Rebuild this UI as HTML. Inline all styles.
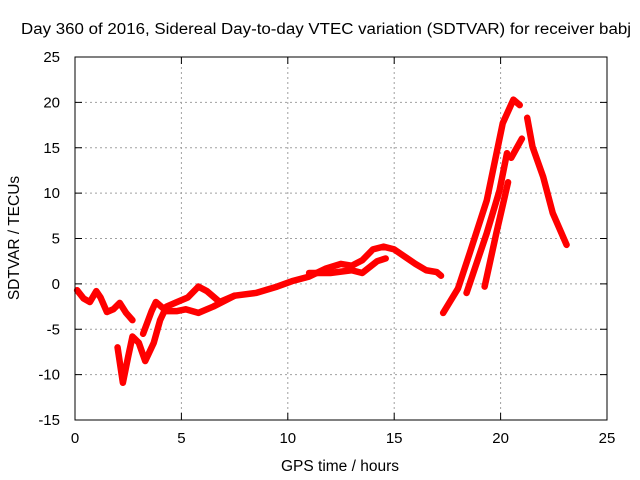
<!DOCTYPE html>
<html><head><meta charset="utf-8"><style>
body{margin:0;background:#fff}
svg{display:block;font-family:"Liberation Sans",sans-serif}
</style></head><body>
<svg id="c" width="640" height="480" xmlns="http://www.w3.org/2000/svg">
<text x="326" y="34" font-size="15.5" text-anchor="middle" textLength="610" lengthAdjust="spacingAndGlyphs">Day 360 of 2016, Sidereal Day-to-day VTEC variation (SDTVAR) for receiver babj</text>
<text x="340" y="471" font-size="15.5" text-anchor="middle">GPS time / hours</text>
<text x="0" y="0" font-size="15.5" text-anchor="middle" transform="translate(19,238) rotate(-90)">SDTVAR / TECUs</text>
<g id="grid"></g><g id="series"></g>
<rect x="75" y="57" width="532" height="363" fill="none" stroke="#000" stroke-width="1"/>
</svg>
<script>
const xTicks=[0,5,10,15,20,25];
const yTicks=[-15,-10,-5,0,5,10,15,20,25];
const trackLeft=[[0.1,-0.7],[0.4,-1.6],[0.7,-2],[1.0,-0.8],[1.2,-1.5],[1.5,-3.1],[1.8,-2.8],[2.1,-2.1],[2.4,-3.2],[2.7,-4]];
const trackMain=[[2.0,-7],[2.25,-10.9],[2.5,-8],[2.7,-5.8],[3.0,-6.5],[3.3,-8.5],[3.7,-6.5],[4.0,-4],[4.3,-2.5],[4.8,-2],[5.3,-1.5],[5.8,-0.3],[6.2,-0.8],[6.8,-2],[7.5,-1.3],[8.5,-1],[9.5,-0.3],[10.2,0.3],[11,0.8],[11.8,1.7],[12.5,2.2],[13,2],[13.5,2.6],[14,3.8],[14.5,4.1],[15,3.8],[15.5,3],[16,2.2],[16.5,1.5],[17,1.3],[17.2,0.9]];
const trackSecond=[[3.2,-5.5],[3.6,-3],[3.8,-2],[4.3,-3],[4.8,-3],[5.2,-2.8],[5.8,-3.2],[6.5,-2.5],[7.5,-1.3]];
const trackLate=[[11,1.2],[12,1.2],[13,1.5],[13.5,1.2],[14.2,2.5],[14.6,2.8]];
const trackA=[[17.3,-3.2],[18.0,-0.5],[18.55,3.4],[19.35,9.2],[20.1,17.7],[20.6,20.3],[20.9,19.7]];
const trackB=[[18.4,-1],[19.35,5.6],[19.95,10.3],[20.3,14.4]];
const trackB2=[[20.5,13.9],[21.0,16]];
const trackC=[[19.25,-0.3],[19.8,5.6],[20.35,11.2]];
const trackDown=[[21.25,18.3],[21.5,15.1],[22.0,11.8],[22.45,7.8],[23.1,4.3]];
const NS="http://www.w3.org/2000/svg";
const X=v=>75+v*21.28, Y=v=>57+(25-v)*9.075;
const g=document.getElementById('grid'), s=document.getElementById('series');
function mk(t,a,p){const e=document.createElementNS(NS,t);for(const k in a)e.setAttribute(k,a[k]);p.appendChild(e);return e;}
xTicks.forEach(t=>{
 if(t>0&&t<25){const l=mk('line',{x1:X(t),x2:X(t),y1:57,y2:420,stroke:'#a0a0a0','stroke-dasharray':'2,3'},g);
 
 }
 mk('line',{x1:X(t),x2:X(t),y1:420,y2:413,stroke:'#000'},g);
 mk('line',{x1:X(t),x2:X(t),y1:57,y2:64,stroke:'#000'},g);
 const tx=mk('text',{x:X(t),y:443,'font-size':15,'text-anchor':'middle'},g);tx.textContent=t;
 
 
});
yTicks.forEach(t=>{
 if(t>-15&&t<25){const l=mk('line',{x1:75,x2:607,y1:Y(t),y2:Y(t),stroke:'#a0a0a0','stroke-dasharray':'2,3'},g);
 
 }
 mk('line',{x1:75,x2:82,y1:Y(t),y2:Y(t),stroke:'#000'},g);
 mk('line',{x1:607,x2:600,y1:Y(t),y2:Y(t),stroke:'#000'},g);
 const tx=mk('text',{x:60,y:Y(t)+5,'font-size':15,'text-anchor':'end'},g);tx.textContent=t;
 
 
});
[trackLeft,trackMain,trackSecond,trackLate,trackA,trackB,trackB2,trackC,trackDown].forEach(tr=>{
 const pl=mk('polyline',{points:tr.map(p=>X(p[0])+','+Y(p[1])).join(' '),fill:'none',stroke:'#ff0000','stroke-width':6.5,'stroke-linejoin':'round','stroke-linecap':'round'},s);
 
 
});
</script>
</body></html>
